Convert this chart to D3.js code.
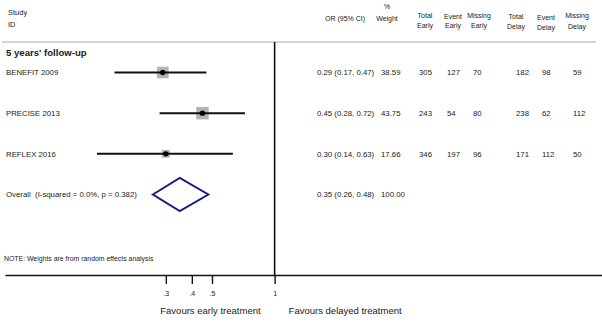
<!DOCTYPE html>
<html>
<head>
<meta charset="utf-8">
<script src="https://cdn.jsdelivr.net/npm/d3@7"></script>
<style>
  body { margin: 0; background: #fff; }
  svg text { font-family: Arial, "Liberation Sans", sans-serif; fill: #1a1a1a; white-space: pre; }
</style>
</head>
<body>
<svg width="602" height="323"></svg>
<script>
// data
const studies = ["BENEFIT 2009", "PRECISE 2013", "REFLEX 2016"];
const orValues = [0.29, 0.45, 0.30];
const ciLow = [0.17, 0.28, 0.14];
const ciHigh = [0.47, 0.72, 0.63];
const weights = [38.59, 43.75, 17.66];
const totalEarly = [305, 243, 346];
const eventEarly = [127, 54, 197];
const missingEarly = [70, 80, 96];
const totalDelay = [182, 238, 171];
const eventDelay = [98, 62, 112];
const missingDelay = [59, 112, 50];
const overallLabel = "Overall  (I-squared = 0.0%, p = 0.382)";
const overallOR = 0.35, overallLow = 0.26, overallHigh = 0.48, overallWeight = 100;
const tickValues = [0.3, 0.4, 0.5, 1];
const tickLabels = [".3", ".4", ".5", "1"];

const svg = d3.select("svg");
const f2 = d3.format(".2f");

// log scale on OR, null line at 1
const x = d3.scaleLog().domain([0.0506, 37.45]).range([5, 602]);
const y = d3.scaleLinear().domain([0, 3]).range([72.5, 194.5]);
const axisY = 275;
const headTop = 42;

// header
svg.append("text").attr("x", 8).attr("y", 12).attr("dy", "0.35em").style("font-size", "7.5px").text("Study");
svg.append("text").attr("x", 8).attr("y", 24).attr("dy", "0.35em").style("font-size", "7.5px").text("ID");

// column headers
const cols = [
  { head: ["OR (95% CI)"], hx: 345, hy: [19], vx: 317 },
  { head: ["%", "Weight"], hx: 387, hy: [7, 19], vx: 381 },
  { head: ["Total", "Early"], hx: 425, hy: [16, 26], vx: 419 },
  { head: ["Event", "Early"], hx: 453, hy: [17, 26], vx: 447 },
  { head: ["Missing", "Early"], hx: 479, hy: [16, 26], vx: 473 },
  { head: ["Total", "Delay"], hx: 516, hy: [17, 27], vx: 516 },
  { head: ["Event", "Delay"], hx: 546, hy: [18, 28], vx: 542 },
  { head: ["Missing", "Delay"], hx: 577, hy: [16, 27], vx: 573 }
];
cols.forEach(c => {
  c.head.forEach((h, i) => {
    svg.append("text")
      .attr("x", c.hx).attr("y", c.hy[i]).attr("dy", "0.35em")
      .attr("text-anchor", "middle")
      .style("font-size", "7px")
      .text(h);
  });
});

svg.append("line")
  .attr("x1", 2).attr("x2", 596).attr("y1", headTop).attr("y2", headTop)
  .attr("stroke", "#c4c4c4").attr("stroke-width", 1.5);

// section title
svg.append("text").attr("x", 6).attr("y", 53).attr("dy", "0.35em")
  .style("font-size", "9.6px").style("font-weight", "bold")
  .text("5 years' follow-up");

// null line
svg.append("line")
  .attr("x1", x(1)).attr("x2", x(1)).attr("y1", headTop).attr("y2", axisY)
  .attr("stroke", "#111").attr("stroke-width", 1.6);

// study rows
const rows = studies.map((s, i) => ({
  study: s, or: orValues[i], lo: ciLow[i], hi: ciHigh[i], w: weights[i],
  vals: [
    `${f2(orValues[i])} (${f2(ciLow[i])}, ${f2(ciHigh[i])})`,
    f2(weights[i]), totalEarly[i], eventEarly[i], missingEarly[i],
    totalDelay[i], eventDelay[i], missingDelay[i]
  ]
}));

const g = svg.selectAll(".row").data(rows).enter().append("g").attr("class", "row");

g.append("text")
  .attr("x", 6).attr("y", (d, i) => y(i)).attr("dy", "0.35em")
  .style("font-size", "7.8px")
  .text(d => d.study);

const boxSize = w => 1.87 * Math.sqrt(w);
g.append("rect")
  .attr("x", d => x(d.or) - boxSize(d.w) / 2)
  .attr("y", (d, i) => y(i) - boxSize(d.w) / 2)
  .attr("width", d => boxSize(d.w))
  .attr("height", d => boxSize(d.w))
  .attr("fill", "#b4b4b4");

g.append("line")
  .attr("x1", d => x(d.lo)).attr("x2", d => x(d.hi))
  .attr("y1", (d, i) => y(i)).attr("y2", (d, i) => y(i))
  .attr("stroke", "#111").attr("stroke-width", 2);

g.append("circle")
  .attr("cx", d => x(d.or)).attr("cy", (d, i) => y(i)).attr("r", 2.7)
  .attr("fill", "#000");

g.each(function(d, i) {
  d3.select(this).selectAll(".val").data(d.vals).enter().append("text")
    .attr("class", "val")
    .attr("x", (v, j) => cols[j].vx)
    .attr("y", y(i)).attr("dy", "0.35em")
    .style("font-size", "7.8px")
    .text(v => v);
});

// overall
const oy = y(3);
svg.append("text").attr("x", 6).attr("y", oy).attr("dy", "0.35em")
  .style("font-size", "7.8px").text(overallLabel);
svg.append("polygon")
  .attr("points", [
    [x(overallLow), oy], [x(overallOR), oy - 16.5],
    [x(overallHigh), oy], [x(overallOR), oy + 16.5]
  ].map(p => p.join(",")).join(" "))
  .attr("fill", "none").attr("stroke", "#1b1f7e").attr("stroke-width", 2);
svg.append("text").attr("x", cols[0].vx).attr("y", oy).attr("dy", "0.35em")
  .style("font-size", "7.8px")
  .text(`${f2(overallOR)} (${f2(overallLow)}, ${f2(overallHigh)})`);
svg.append("text").attr("x", cols[1].vx).attr("y", oy).attr("dy", "0.35em")
  .style("font-size", "7.8px").text(f2(overallWeight));

// note
svg.append("text").attr("x", 4).attr("y", 259).attr("dy", "0.35em")
  .style("font-size", "6.9px")
  .text("NOTE: Weights are from random effects analysis");

// x axis
const axis = svg.append("g")
  .attr("transform", `translate(0,${axisY})`)
  .call(d3.axisBottom(x).tickValues(tickValues)
    .tickFormat((d, i) => tickLabels[i]).tickSize(9).tickSizeOuter(0).tickPadding(7));
axis.select(".domain").attr("stroke", "#111").attr("stroke-width", 1.4);
axis.selectAll(".tick line").attr("stroke", "#111").attr("stroke-width", 1.4);
axis.selectAll(".tick text")
  .style("font-size", "7px")
  .style("font-family", "Arial, 'Liberation Sans', sans-serif")
  .attr("fill", "#1a1a1a");

svg.append("text").attr("x", x(1) - 14).attr("y", 311).attr("dy", "0.35em")
  .attr("text-anchor", "end").style("font-size", "9.5px")
  .text("Favours early treatment");
svg.append("text").attr("x", x(1) + 14).attr("y", 311).attr("dy", "0.35em")
  .style("font-size", "9.5px")
  .text("Favours delayed treatment");
</script>
</body>
</html>
